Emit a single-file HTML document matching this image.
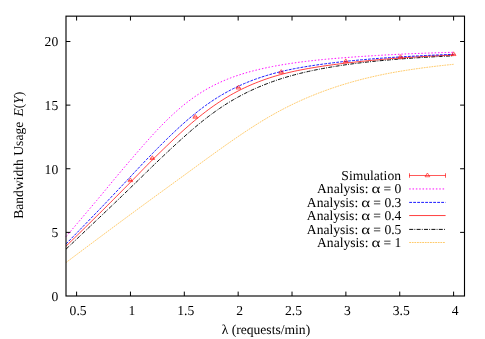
<!DOCTYPE html>
<html><head><meta charset="utf-8"><title>Bandwidth Usage</title>
<style>
html,body{margin:0;padding:0;background:#fff;}
body{width:485px;height:339px;overflow:hidden;font-family:"Liberation Serif",serif;}
svg{display:block;}
svg text{text-rendering:geometricPrecision;font-family:"Liberation Serif",serif;font-size:13.6px;fill:#000;}
</style></head>
<body>
<svg width="485" height="339" viewBox="0 0 485 339">
<rect width="485" height="339" fill="#fff"/>
<g fill="none" stroke-linecap="butt" stroke-linejoin="round">
<path d="M66.00,262.54 L68.79,260.44 L71.58,258.35 L74.37,256.25 L77.15,254.16 L79.94,252.07 L82.73,249.98 L85.52,247.90 L88.31,245.81 L91.10,243.73 L93.88,241.65 L96.67,239.57 L99.46,237.49 L102.25,235.41 L105.04,233.33 L107.83,231.26 L110.62,229.19 L113.40,227.12 L116.19,225.05 L118.98,222.98 L121.77,220.91 L124.56,218.85 L127.35,216.79 L130.14,214.72 L132.92,212.67 L135.71,210.61 L138.50,208.56 L141.29,206.52 L144.08,204.47 L146.87,202.43 L149.65,200.40 L152.44,198.36 L155.23,196.33 L158.02,194.29 L160.81,192.26 L163.60,190.23 L166.39,188.20 L169.17,186.17 L171.96,184.14 L174.75,182.11 L177.54,180.08 L180.33,178.05 L183.12,176.02 L185.91,173.99 L188.69,171.95 L191.48,169.92 L194.27,167.88 L197.06,165.84 L199.85,163.80 L202.64,161.77 L205.42,159.73 L208.21,157.71 L211.00,155.69 L213.79,153.67 L216.58,151.67 L219.37,149.67 L222.16,147.68 L224.94,145.70 L227.73,143.74 L230.52,141.79 L233.31,139.85 L236.10,137.93 L238.89,136.03 L241.67,134.14 L244.46,132.27 L247.25,130.43 L250.04,128.60 L252.83,126.80 L255.62,125.02 L258.41,123.27 L261.19,121.54 L263.98,119.84 L266.77,118.18 L269.56,116.55 L272.35,114.95 L275.14,113.39 L277.93,111.85 L280.71,110.35 L283.50,108.89 L286.29,107.45 L289.08,106.05 L291.87,104.68 L294.66,103.35 L297.44,102.04 L300.23,100.77 L303.02,99.52 L305.81,98.31 L308.60,97.12 L311.39,95.96 L314.18,94.83 L316.96,93.73 L319.75,92.64 L322.54,91.59 L325.33,90.56 L328.12,89.56 L330.91,88.58 L333.69,87.63 L336.48,86.70 L339.27,85.79 L342.06,84.91 L344.85,84.06 L347.64,83.22 L350.43,82.41 L353.21,81.62 L356.00,80.86 L358.79,80.11 L361.58,79.38 L364.37,78.68 L367.16,77.99 L369.95,77.33 L372.73,76.68 L375.52,76.05 L378.31,75.45 L381.10,74.86 L383.89,74.28 L386.68,73.73 L389.46,73.19 L392.25,72.67 L395.04,72.16 L397.83,71.68 L400.62,71.20 L403.41,70.75 L406.20,70.30 L408.98,69.87 L411.77,69.45 L414.56,69.04 L417.35,68.64 L420.14,68.25 L422.93,67.87 L425.72,67.50 L428.50,67.14 L431.29,66.80 L434.08,66.46 L436.87,66.12 L439.66,65.80 L442.45,65.49 L445.23,65.18 L448.02,64.88 L450.81,64.59 L453.60,64.30" stroke="#ffa500" stroke-width="0.58" stroke-dasharray="1.8,0.8"/>
<path d="M66.00,249.16 L68.79,246.54 L71.58,243.92 L74.37,241.29 L77.15,238.66 L79.94,236.02 L82.73,233.39 L85.52,230.75 L88.31,228.10 L91.10,225.46 L93.88,222.81 L96.67,220.16 L99.46,217.51 L102.25,214.85 L105.04,212.20 L107.83,209.54 L110.62,206.89 L113.40,204.23 L116.19,201.55 L118.98,198.87 L121.77,196.18 L124.56,193.49 L127.35,190.79 L130.14,188.09 L132.92,185.39 L135.71,182.69 L138.50,179.98 L141.29,177.26 L144.08,174.54 L146.87,171.81 L149.65,169.08 L152.44,166.36 L155.23,163.66 L158.02,160.99 L160.81,158.33 L163.60,155.70 L166.39,153.07 L169.17,150.46 L171.96,147.86 L174.75,145.28 L177.54,142.72 L180.33,140.18 L183.12,137.67 L185.91,135.18 L188.69,132.73 L191.48,130.31 L194.27,127.93 L197.06,125.58 L199.85,123.28 L202.64,121.02 L205.42,118.82 L208.21,116.66 L211.00,114.56 L213.79,112.52 L216.58,110.53 L219.37,108.59 L222.16,106.71 L224.94,104.89 L227.73,103.12 L230.52,101.41 L233.31,99.76 L236.10,98.16 L238.89,96.61 L241.67,95.12 L244.46,93.68 L247.25,92.28 L250.04,90.94 L252.83,89.64 L255.62,88.39 L258.41,87.18 L261.19,86.01 L263.98,84.88 L266.77,83.79 L269.56,82.73 L272.35,81.71 L275.14,80.73 L277.93,79.78 L280.71,78.87 L283.50,77.99 L286.29,77.14 L289.08,76.33 L291.87,75.54 L294.66,74.79 L297.44,74.06 L300.23,73.36 L303.02,72.68 L305.81,72.03 L308.60,71.40 L311.39,70.79 L314.18,70.21 L316.96,69.65 L319.75,69.10 L322.54,68.57 L325.33,68.06 L328.12,67.57 L330.91,67.09 L333.69,66.62 L336.48,66.17 L339.27,65.73 L342.06,65.30 L344.85,64.89 L347.64,64.49 L350.43,64.10 L353.21,63.73 L356.00,63.36 L358.79,63.01 L361.58,62.68 L364.37,62.35 L367.16,62.04 L369.95,61.74 L372.73,61.45 L375.52,61.17 L378.31,60.89 L381.10,60.63 L383.89,60.37 L386.68,60.12 L389.46,59.88 L392.25,59.64 L395.04,59.41 L397.83,59.19 L400.62,58.97 L403.41,58.76 L406.20,58.56 L408.98,58.36 L411.77,58.16 L414.56,57.97 L417.35,57.79 L420.14,57.61 L422.93,57.43 L425.72,57.26 L428.50,57.10 L431.29,56.94 L434.08,56.78 L436.87,56.62 L439.66,56.47 L442.45,56.33 L445.23,56.18 L448.02,56.04 L450.81,55.91 L453.60,55.78" stroke="#000000" stroke-width="0.95" stroke-dasharray="4,1.2,0.9,1.3"/>
<path d="M66.00,246.17 L68.79,243.47 L71.58,240.77 L74.37,238.06 L77.15,235.34 L79.94,232.62 L82.73,229.89 L85.52,227.16 L88.31,224.41 L91.10,221.67 L93.88,218.92 L96.67,216.16 L99.46,213.40 L102.25,210.63 L105.04,207.86 L107.83,205.08 L110.62,202.29 L113.40,199.50 L116.19,196.69 L118.98,193.88 L121.77,191.06 L124.56,188.25 L127.35,185.43 L130.14,182.61 L132.92,179.77 L135.71,176.92 L138.50,174.05 L141.29,171.18 L144.08,168.31 L146.87,165.46 L149.65,162.63 L152.44,159.83 L155.23,157.08 L158.02,154.35 L160.81,151.63 L163.60,148.93 L166.39,146.24 L169.17,143.57 L171.96,140.92 L174.75,138.30 L177.54,135.70 L180.33,133.13 L183.12,130.60 L185.91,128.10 L188.69,125.65 L191.48,123.23 L194.27,120.87 L197.06,118.55 L199.85,116.28 L202.64,114.07 L205.42,111.91 L208.21,109.81 L211.00,107.76 L213.79,105.78 L216.58,103.85 L219.37,101.98 L222.16,100.18 L224.94,98.43 L227.73,96.75 L230.52,95.12 L233.31,93.55 L236.10,92.04 L238.89,90.59 L241.67,89.19 L244.46,87.84 L247.25,86.55 L250.04,85.31 L252.83,84.11 L255.62,82.97 L258.41,81.86 L261.19,80.81 L263.98,79.79 L266.77,78.82 L269.56,77.88 L272.35,76.99 L275.14,76.14 L277.93,75.32 L280.71,74.55 L283.50,73.81 L286.29,73.11 L289.08,72.44 L291.87,71.80 L294.66,71.19 L297.44,70.60 L300.23,70.04 L303.02,69.50 L305.81,68.98 L308.60,68.48 L311.39,67.99 L314.18,67.52 L316.96,67.07 L319.75,66.62 L322.54,66.20 L325.33,65.78 L328.12,65.38 L330.91,65.00 L333.69,64.63 L336.48,64.26 L339.27,63.91 L342.06,63.57 L344.85,63.24 L347.64,62.91 L350.43,62.59 L353.21,62.27 L356.00,61.96 L358.79,61.66 L361.58,61.36 L364.37,61.07 L367.16,60.79 L369.95,60.51 L372.73,60.24 L375.52,59.98 L378.31,59.72 L381.10,59.47 L383.89,59.22 L386.68,58.99 L389.46,58.76 L392.25,58.53 L395.04,58.32 L397.83,58.11 L400.62,57.92 L403.41,57.73 L406.20,57.54 L408.98,57.36 L411.77,57.18 L414.56,57.01 L417.35,56.84 L420.14,56.67 L422.93,56.51 L425.72,56.36 L428.50,56.21 L431.29,56.06 L434.08,55.91 L436.87,55.77 L439.66,55.63 L442.45,55.50 L445.23,55.37 L448.02,55.24 L450.81,55.12 L453.60,55.00" stroke="#ff0000" stroke-width="0.75"/>
<path d="M66.00,243.93 L68.79,241.09 L71.58,238.24 L74.37,235.39 L77.15,232.53 L79.94,229.67 L82.73,226.80 L85.52,223.92 L88.31,221.04 L91.10,218.15 L93.88,215.25 L96.67,212.35 L99.46,209.45 L102.25,206.53 L105.04,203.61 L107.83,200.68 L110.62,197.74 L113.40,194.79 L116.19,191.84 L118.98,188.89 L121.77,185.93 L124.56,182.98 L127.35,180.02 L130.14,177.05 L132.92,174.06 L135.71,171.07 L138.50,168.09 L141.29,165.12 L144.08,162.17 L146.87,159.24 L149.65,156.36 L152.44,153.51 L155.23,150.67 L158.02,147.85 L160.81,145.05 L163.60,142.27 L166.39,139.52 L169.17,136.80 L171.96,134.12 L174.75,131.47 L177.54,128.86 L180.33,126.29 L183.12,123.78 L185.91,121.31 L188.69,118.89 L191.48,116.54 L194.27,114.24 L197.06,112.00 L199.85,109.82 L202.64,107.70 L205.42,105.65 L208.21,103.67 L211.00,101.74 L213.79,99.89 L216.58,98.10 L219.37,96.37 L222.16,94.70 L224.94,93.10 L227.73,91.56 L230.52,90.08 L233.31,88.65 L236.10,87.28 L238.89,85.97 L241.67,84.71 L244.46,83.50 L247.25,82.34 L250.04,81.23 L252.83,80.16 L255.62,79.14 L258.41,78.16 L261.19,77.22 L263.98,76.31 L266.77,75.45 L269.56,74.62 L272.35,73.82 L275.14,73.07 L277.93,72.34 L280.71,71.65 L283.50,71.00 L286.29,70.37 L289.08,69.77 L291.87,69.19 L294.66,68.64 L297.44,68.11 L300.23,67.61 L303.02,67.12 L305.81,66.65 L308.60,66.20 L311.39,65.77 L314.18,65.35 L316.96,64.94 L319.75,64.55 L322.54,64.17 L325.33,63.79 L328.12,63.43 L330.91,63.07 L333.69,62.73 L336.48,62.39 L339.27,62.07 L342.06,61.75 L344.85,61.45 L347.64,61.15 L350.43,60.87 L353.21,60.59 L356.00,60.32 L358.79,60.06 L361.58,59.80 L364.37,59.56 L367.16,59.32 L369.95,59.08 L372.73,58.86 L375.52,58.63 L378.31,58.42 L381.10,58.21 L383.89,58.01 L386.68,57.81 L389.46,57.62 L392.25,57.43 L395.04,57.25 L397.83,57.07 L400.62,56.90 L403.41,56.73 L406.20,56.57 L408.98,56.41 L411.77,56.25 L414.56,56.10 L417.35,55.95 L420.14,55.81 L422.93,55.66 L425.72,55.53 L428.50,55.39 L431.29,55.26 L434.08,55.13 L436.87,55.00 L439.66,54.88 L442.45,54.76 L445.23,54.64 L448.02,54.52 L450.81,54.41 L453.60,54.30" stroke="#0000ff" stroke-width="0.9" stroke-dasharray="2.8,1.2"/>
<path d="M66.00,236.67 L68.79,233.40 L71.58,230.12 L74.37,226.84 L77.15,223.56 L79.94,220.27 L82.73,216.98 L85.52,213.69 L88.31,210.40 L91.10,207.10 L93.88,203.80 L96.67,200.50 L99.46,197.19 L102.25,193.84 L105.04,190.47 L107.83,187.08 L110.62,183.70 L113.40,180.32 L116.19,176.97 L118.98,173.64 L121.77,170.35 L124.56,167.07 L127.35,163.80 L130.14,160.54 L132.92,157.29 L135.71,154.05 L138.50,150.83 L141.29,147.64 L144.08,144.47 L146.87,141.33 L149.65,138.22 L152.44,135.16 L155.23,132.15 L158.02,129.18 L160.81,126.27 L163.60,123.42 L166.39,120.64 L169.17,117.93 L171.96,115.29 L174.75,112.72 L177.54,110.24 L180.33,107.84 L183.12,105.51 L185.91,103.27 L188.69,101.12 L191.48,99.05 L194.27,97.06 L197.06,95.15 L199.85,93.32 L202.64,91.57 L205.42,89.90 L208.21,88.31 L211.00,86.79 L213.79,85.34 L216.58,83.96 L219.37,82.64 L222.16,81.39 L224.94,80.20 L227.73,79.06 L230.52,77.98 L233.31,76.95 L236.10,75.97 L238.89,75.04 L241.67,74.14 L244.46,73.29 L247.25,72.48 L250.04,71.70 L252.83,70.96 L255.62,70.25 L258.41,69.57 L261.19,68.92 L263.98,68.29 L266.77,67.69 L269.56,67.12 L272.35,66.56 L275.14,66.03 L277.93,65.52 L280.71,65.03 L283.50,64.56 L286.29,64.11 L289.08,63.68 L291.87,63.26 L294.66,62.86 L297.44,62.47 L300.23,62.10 L303.02,61.74 L305.81,61.40 L308.60,61.07 L311.39,60.75 L314.18,60.44 L316.96,60.14 L319.75,59.85 L322.54,59.58 L325.33,59.31 L328.12,59.05 L330.91,58.80 L333.69,58.55 L336.48,58.32 L339.27,58.09 L342.06,57.87 L344.85,57.66 L347.64,57.45 L350.43,57.24 L353.21,57.04 L356.00,56.85 L358.79,56.65 L361.58,56.46 L364.37,56.28 L367.16,56.10 L369.95,55.92 L372.73,55.74 L375.52,55.57 L378.31,55.40 L381.10,55.24 L383.89,55.08 L386.68,54.92 L389.46,54.77 L392.25,54.62 L395.04,54.48 L397.83,54.34 L400.62,54.20 L403.41,54.07 L406.20,53.94 L408.98,53.82 L411.77,53.70 L414.56,53.59 L417.35,53.48 L420.14,53.37 L422.93,53.27 L425.72,53.17 L428.50,53.08 L431.29,52.98 L434.08,52.89 L436.87,52.80 L439.66,52.71 L442.45,52.62 L445.23,52.54 L448.02,52.46 L450.81,52.37 L453.60,52.29" stroke="#ff00ff" stroke-width="0.95" stroke-dasharray="1.5,1.84"/>
</g>
<g>
<path d="M130.40,177.95 L132.80,181.70 L128.00,181.70 Z" fill="none" stroke="#ff0000" stroke-width="0.6"/>
<path d="M128.50,180.45 H132.30" stroke="#ff0000" stroke-width="0.7"/>
<path d="M152.30,155.75 L154.70,159.50 L149.90,159.50 Z" fill="none" stroke="#ff0000" stroke-width="0.6"/>
<path d="M150.40,158.25 H154.20" stroke="#ff0000" stroke-width="0.7"/>
<path d="M195.30,114.45 L197.70,118.20 L192.90,118.20 Z" fill="none" stroke="#ff0000" stroke-width="0.6"/>
<path d="M193.40,116.95 H197.20" stroke="#ff0000" stroke-width="0.7"/>
<path d="M238.40,85.25 L240.80,89.00 L236.00,89.00 Z" fill="none" stroke="#ff0000" stroke-width="0.6"/>
<path d="M236.50,87.75 H240.30" stroke="#ff0000" stroke-width="0.7"/>
<path d="M281.20,69.60 L283.60,73.35 L278.80,73.35 Z" fill="none" stroke="#ff0000" stroke-width="0.6"/>
<path d="M279.30,72.10 H283.10" stroke="#ff0000" stroke-width="0.7"/>
<path d="M345.80,58.85 L348.20,62.60 L343.40,62.60 Z" fill="none" stroke="#ff0000" stroke-width="0.6"/>
<path d="M343.90,61.35 H347.70" stroke="#ff0000" stroke-width="0.7"/>
<path d="M400.50,54.70 L402.90,58.45 L398.10,58.45 Z" fill="none" stroke="#ff0000" stroke-width="0.6"/>
<path d="M398.60,57.20 H402.40" stroke="#ff0000" stroke-width="0.7"/>
<path d="M453.60,51.80 L456.00,55.55 L451.20,55.55 Z" fill="none" stroke="#ff0000" stroke-width="0.6"/>
<path d="M451.70,54.30 H455.50" stroke="#ff0000" stroke-width="0.7"/>
</g>
<path d="M409.2,175.5 H445.6 M409.5,173.25 V177.75 M445.5,173.25 V177.75" stroke="#ff0000" stroke-width="0.65" fill="none"/>
<path d="M427.40,173.00 L429.80,176.75 L425.00,176.75 Z" fill="none" stroke="#ff0000" stroke-width="0.6"/>
<path d="M409.2,188.95 H445.6" stroke="#ff00ff" stroke-width="0.95" stroke-dasharray="1.5,1.84" fill="none"/>
<path d="M409.2,202.4 H445.6" stroke="#0000ff" stroke-width="0.9" stroke-dasharray="2.8,1.2" fill="none"/>
<path d="M409.2,215.55 H445.6" stroke="#ff0000" stroke-width="0.75" fill="none"/>
<path d="M409.2,229.4 H445.6" stroke="#000000" stroke-width="0.95" stroke-dasharray="4,1.2,0.9,1.3" fill="none"/>
<path d="M409.2,242.5 H445.6" stroke="#ffa500" stroke-width="0.58" stroke-dasharray="1.8,0.8" fill="none"/>
<rect x="66.0" y="16.15" width="398.5" height="279.85" fill="none" stroke="#000" stroke-width="1.12"/>
<path d="M76.60,296.0 V291.6 M76.60,16.15 V20.549999999999997" stroke="#000" stroke-width="1"/>
<path d="M130.46,296.0 V291.6 M130.46,16.15 V20.549999999999997" stroke="#000" stroke-width="1"/>
<path d="M184.31,296.0 V291.6 M184.31,16.15 V20.549999999999997" stroke="#000" stroke-width="1"/>
<path d="M238.17,296.0 V291.6 M238.17,16.15 V20.549999999999997" stroke="#000" stroke-width="1"/>
<path d="M292.03,296.0 V291.6 M292.03,16.15 V20.549999999999997" stroke="#000" stroke-width="1"/>
<path d="M345.89,296.0 V291.6 M345.89,16.15 V20.549999999999997" stroke="#000" stroke-width="1"/>
<path d="M399.74,296.0 V291.6 M399.74,16.15 V20.549999999999997" stroke="#000" stroke-width="1"/>
<path d="M453.60,296.0 V291.6 M453.60,16.15 V20.549999999999997" stroke="#000" stroke-width="1"/>
<path d="M66.0,232.38 H70.4 M464.5,232.38 H460.1" stroke="#000" stroke-width="1"/>
<path d="M66.0,168.75 H70.4 M464.5,168.75 H460.1" stroke="#000" stroke-width="1"/>
<path d="M66.0,105.12 H70.4 M464.5,105.12 H460.1" stroke="#000" stroke-width="1"/>
<path d="M66.0,41.50 H70.4 M464.5,41.50 H460.1" stroke="#000" stroke-width="1"/>
<filter id="gs" x="0" y="0" width="485" height="339" filterUnits="userSpaceOnUse"><feOffset dx="0" dy="0"/></filter>
<g filter="url(#gs)">
<text x="78.10" y="314.8" text-anchor="middle">0.5</text>
<text x="131.96" y="314.8" text-anchor="middle">1</text>
<text x="185.81" y="314.8" text-anchor="middle">1.5</text>
<text x="239.67" y="314.8" text-anchor="middle">2</text>
<text x="293.53" y="314.8" text-anchor="middle">2.5</text>
<text x="347.39" y="314.8" text-anchor="middle">3</text>
<text x="401.24" y="314.8" text-anchor="middle">3.5</text>
<text x="455.10" y="314.8" text-anchor="middle">4</text>
<text x="58.2" y="300.90" text-anchor="end">0</text>
<text x="58.2" y="237.28" text-anchor="end">5</text>
<text x="58.2" y="173.65" text-anchor="end">10</text>
<text x="58.2" y="110.03" text-anchor="end">15</text>
<text x="58.2" y="46.40" text-anchor="end">20</text>
<text x="265.9" y="333.9" text-anchor="middle">λ (requests/min)</text>
<text transform="translate(23.1,155.2) rotate(-90)" text-anchor="middle">Bandwidth Usage<tspan dx="5.2" font-style="italic">E</tspan>(<tspan font-style="italic">Y</tspan>)</text>
<text x="401.0" y="179.90" text-anchor="end">Simulation</text>
<text x="368.42" y="193.35" text-anchor="end">Analysis:</text>
<text transform="translate(371.44,193.35) scale(1.25,1)">α</text>
<text x="401.4" y="193.35" text-anchor="end">= 0</text>
<text x="358.19" y="206.80" text-anchor="end">Analysis:</text>
<text transform="translate(361.21,206.80) scale(1.25,1)">α</text>
<text x="401.4" y="206.80" text-anchor="end">= 0.3</text>
<text x="358.19" y="219.95" text-anchor="end">Analysis:</text>
<text transform="translate(361.21,219.95) scale(1.25,1)">α</text>
<text x="401.4" y="219.95" text-anchor="end">= 0.4</text>
<text x="358.19" y="233.80" text-anchor="end">Analysis:</text>
<text transform="translate(361.21,233.80) scale(1.25,1)">α</text>
<text x="401.4" y="233.80" text-anchor="end">= 0.5</text>
<text x="368.42" y="246.90" text-anchor="end">Analysis:</text>
<text transform="translate(371.44,246.90) scale(1.25,1)">α</text>
<text x="401.4" y="246.90" text-anchor="end">= 1</text>
</g>
</svg>
</body></html>
